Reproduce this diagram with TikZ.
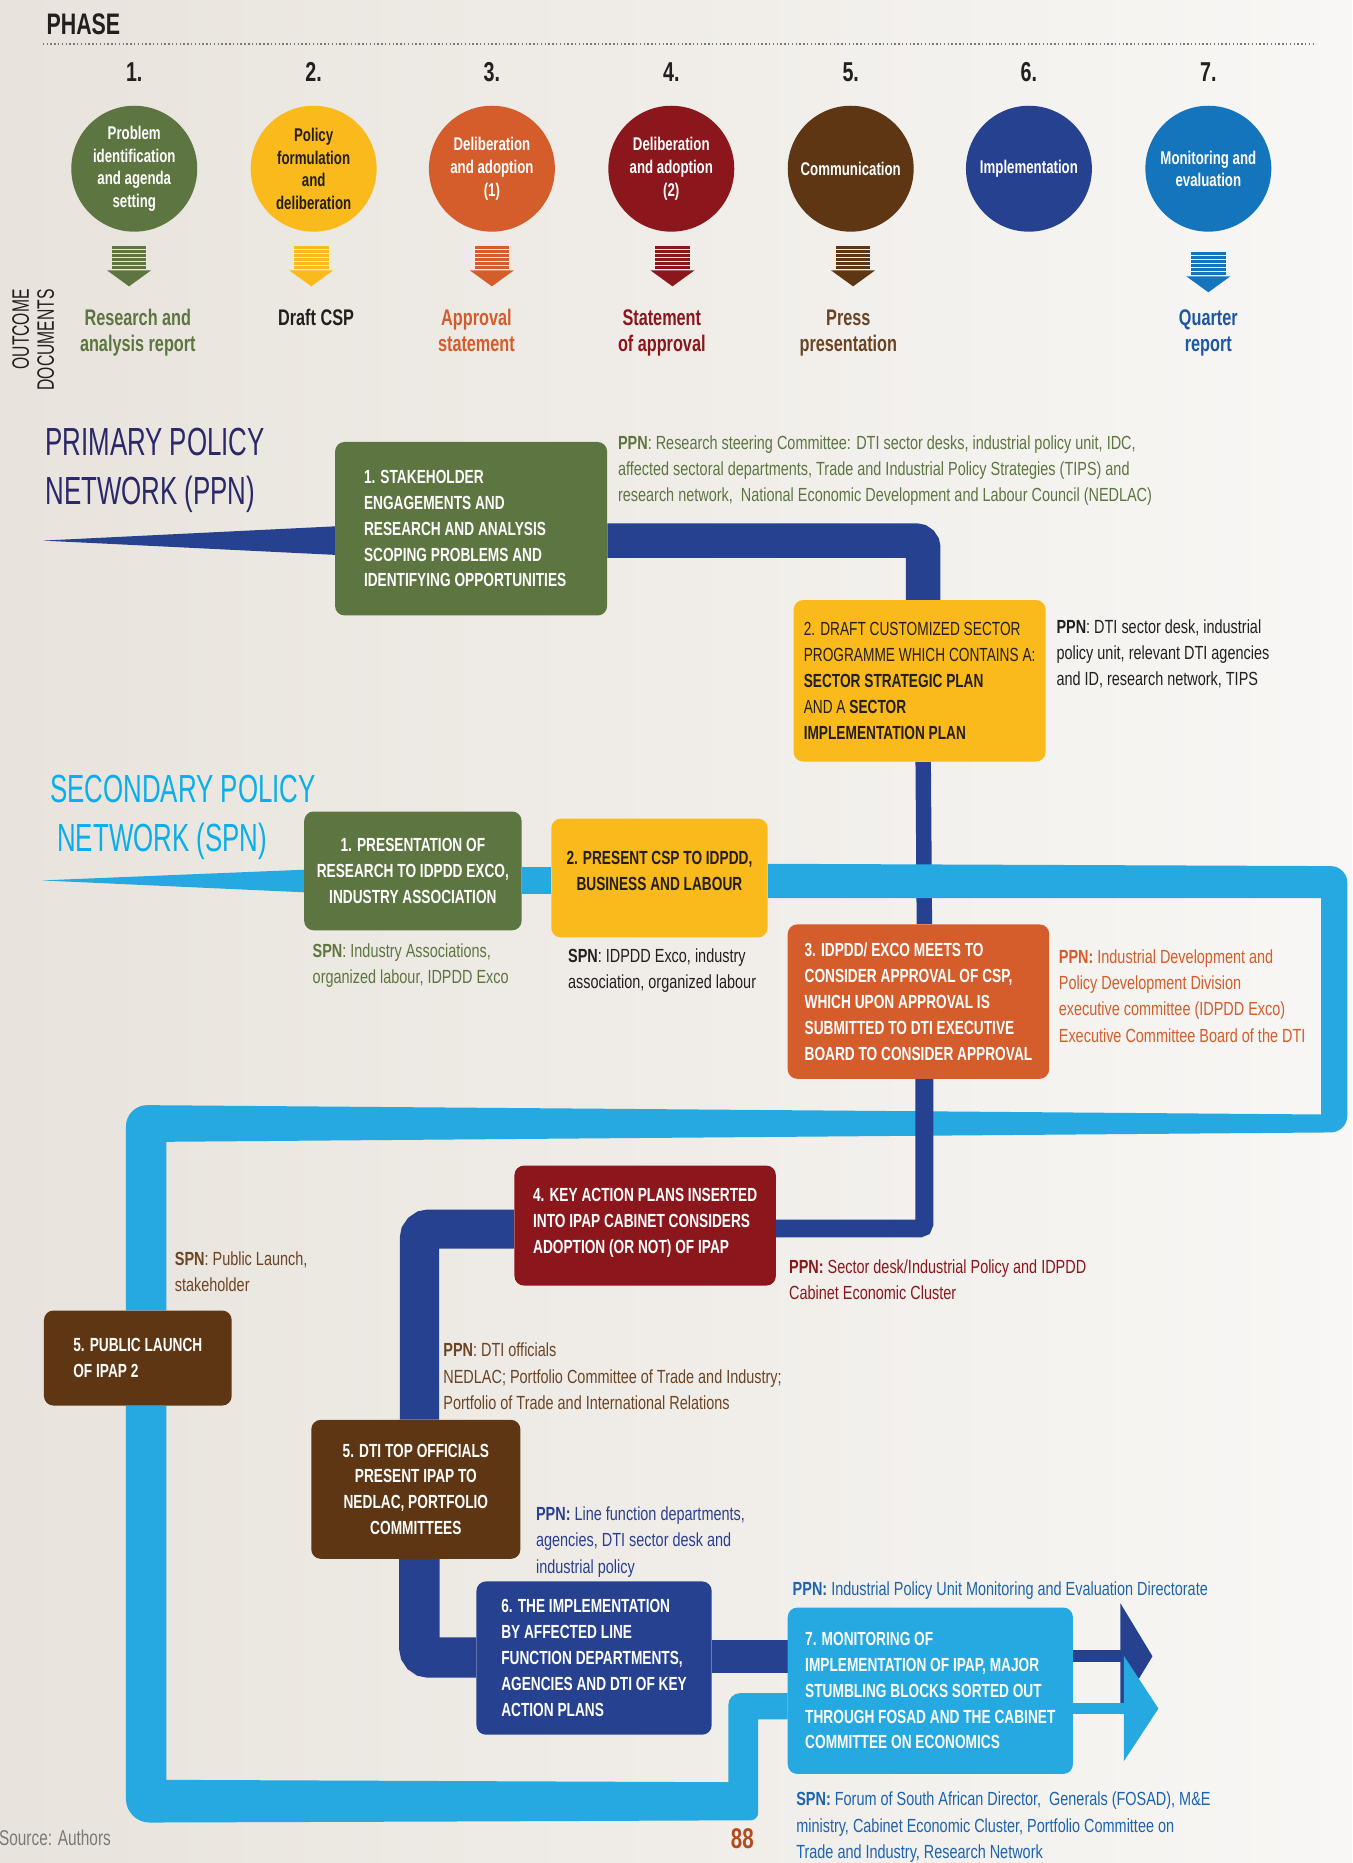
\documentclass[tikz,border=0pt]{standalone}
\usepackage{fontspec}
\setmainfont{Liberation Sans}[FakeStretch=0.72]
\newfontfamily\titlefont{Liberation Sans}[FakeStretch=0.66]
\newfontfamily\notefont{Liberation Sans}[FakeStretch=0.76]
\usepackage{xcolor}
\usepackage{tikz}
\usetikzlibrary{arrows.meta,backgrounds}

\definecolor{cgreen}{HTML}{5D7540}
\definecolor{cyellow}{HTML}{FBBA1C}
\definecolor{corange}{HTML}{D55C2B}
\definecolor{cdred}{HTML}{8B171C}
\definecolor{cbrown}{HTML}{5E3613}
\definecolor{cnavy}{HTML}{264190}
\definecolor{cblue}{HTML}{1474BC}
\definecolor{ccyan}{HTML}{25A9E0}
\definecolor{cdark}{HTML}{231F20}
\definecolor{cbrowntext}{HTML}{6B4423}
\definecolor{cnavytext}{HTML}{2B3F91}
\definecolor{cbluetext}{HTML}{1C63B0}
\definecolor{cqtext}{HTML}{1E57A3}
\definecolor{cppntitle}{HTML}{2A2868}
\definecolor{cspntitle}{HTML}{0AAEEA}
\definecolor{cgrey}{HTML}{7A7A7A}
\definecolor{cbgl}{HTML}{E8E3DC}
\definecolor{cbgr}{HTML}{F8F7F5}
\definecolor{cpage}{HTML}{B24C1E}

\begin{document}
\begin{tikzpicture}[
      x=1pt, y=-1pt,
      phase/.style={circle, minimum size=106pt, inner sep=0pt, align=center,
                    text=white, font=\fontsize{15.5}{19}\selectfont\bfseries},
      num/.style={anchor=base, inner sep=0pt, text=cdark,
                  font=\fontsize{23}{23}\selectfont\bfseries},
      outcome/.style={anchor=base, inner sep=0pt, align=center,
                      font=\fontsize{19}{21.5}\selectfont\bfseries},
      stage/.style={rectangle, rounded corners=8pt, inner sep=0pt, align=left,
                    text=white, font=\fontsize{16}{21.75}\selectfont\bfseries},
      note/.style={anchor=base west, inner sep=0pt, align=left,
                   font=\notefont\fontsize{16}{22}\selectfont},
      title/.style={anchor=base west, inner sep=0pt, align=left,
                    font=\titlefont\fontsize{33}{42}\selectfont}
    ]
    \useasboundingbox (0,0) rectangle (1138,1568);

    \node[anchor=base west, inner sep=0pt, text=cdark,
          font=\fontsize{25}{25}\selectfont\bfseries] (phasehead) at (39,29) {PHASE};
    \draw[cgrey, dotted, line width=1.2pt] (36,37) -- (1108,37);

    \foreach \i/\px/\col/\tc/\txt in {
        1/113/cgreen/white/{Problem\\identification\\and agenda\\setting},
        2/264/cyellow/cdark/{Policy\\formulation\\and\\deliberation},
        3/414/corange/white/{Deliberation\\and adoption\\(1)},
        4/565/cdred/white/{Deliberation\\and adoption\\(2)},
        5/716/cbrown/white/{Communication},
        6/866/cnavy/white/{Implementation},
        7/1017/cblue/white/{Monitoring and\\evaluation}} {
      \node[num] (num\i) at (\px,69) {\i.};
      \node[phase, fill=\col, text=\tc] (phase\i) at (\px,142) {\txt};
    }

    \foreach \ax/\ay/\col in {108.6/207/cgreen, 262/207/cyellow, 414/207/corange,
                              566/207/cdred, 718/207/cbrown, 1017/212/cblue} {
      \foreach \k in {0,...,5}
        \fill[\col] (\ax-14.5,\ay+\k*3.4) rectangle +(29,2.3);
      \fill[\col] (\ax-18.5,\ay+20.6) -- (\ax+18.5,\ay+20.6) -- (\ax,\ay+34) -- cycle;
    }

    \node[outcome, text=cgreen] (doc1) at (116,295.5) {Research and\\analysis report};
    \node[outcome, text=cdark] (doc2) at (266,274) {Draft CSP};
    \node[outcome, text=corange] (doc3) at (401,295.5) {Approval\\statement};
    \node[outcome, text=cdred] (doc4) at (557,295.5) {Statement\\of approval};
    \node[outcome, text=cbrowntext] (doc5) at (714,295.5) {Press\\presentation};
    \node[outcome, text=cqtext] (doc7) at (1017,295.5) {Quarter\\report};
    \node[rotate=90, align=right, inner sep=0pt, text=cdark,
          font=\titlefont\fontsize{20}{21}\selectfont] (outdocs) at (28,286) {OUTCOME\\DOCUMENTS};

    \node[title, text=cppntitle] (ppntitle) at (38,425) {PRIMARY POLICY\\NETWORK (PPN)};
    \node[title, text=cspntitle] (spntitle) at (42,717) {SECONDARY POLICY\\\hspace*{6pt}NETWORK (SPN)};

    \node[stage, fill=cgreen, minimum width=229pt, minimum height=146pt] (research) at (396.5,445)
      {1. STAKEHOLDER\\ENGAGEMENTS AND\\RESEARCH AND ANALYSIS\\SCOPING PROBLEMS AND\\IDENTIFYING OPPORTUNITIES\hspace*{10pt}};
    \node[stage, fill=cyellow, text=cdark, minimum width=212pt, minimum height=136pt] (draft) at (774,573)
      {{\mdseries 2. DRAFT CUSTOMIZED SECTOR}\\{\mdseries PROGRAMME WHICH CONTAINS A:}\\SECTOR STRATEGIC PLAN\\{\mdseries AND A} SECTOR\\IMPLEMENTATION PLAN};
    \node[stage, fill=cgreen, align=center, minimum width=183pt, minimum height=100pt] (spnres) at (347.5,733)
      {1. PRESENTATION OF\\RESEARCH TO IDPDD EXCO,\\INDUSTRY ASSOCIATION};
    \node[stage, fill=cyellow, text=cdark, align=center, minimum width=182pt, minimum height=100pt] (spnpres) at (555,739)
      {2. PRESENT CSP TO IDPDD,\\BUSINESS AND LABOUR\\[-10pt]};
    \node[stage, fill=corange, minimum width=220pt, minimum height=130pt] (approve) at (773,843)
      {3. IDPDD/ EXCO MEETS TO\\CONSIDER APPROVAL OF CSP,\\WHICH UPON APPROVAL IS\\SUBMITTED TO DTI EXECUTIVE\\BOARD TO CONSIDER APPROVAL};
    \node[stage, fill=cdred, minimum width=220pt, minimum height=101pt] (cabinet) at (543,1031.5)
      {4. KEY ACTION PLANS INSERTED\\INTO IPAP CABINET CONSIDERS\\ADOPTION (OR NOT) OF IPAP\\[-14pt]};
    \node[stage, fill=cbrown, minimum width=158pt, minimum height=80pt] (launch) at (116,1143)
      {5. PUBLIC LAUNCH\\OF IPAP 2\hspace*{20pt}};
    \node[stage, fill=cbrown, align=center, minimum width=176pt, minimum height=117pt] (present) at (350,1253.5)
      {5. DTI TOP OFFICIALS\\PRESENT IPAP TO\\NEDLAC, PORTFOLIO\\COMMITTEES};
    \node[stage, fill=cnavy, minimum width=198pt, minimum height=129pt] (implement) at (500,1395.5)
      {6. THE IMPLEMENTATION\\BY AFFECTED LINE\\FUNCTION DEPARTMENTS,\\AGENCIES AND DTI OF KEY\\ACTION PLANS};
    \node[stage, fill=ccyan, minimum width=240pt, minimum height=140pt] (monitor) at (783,1423)
      {7. MONITORING OF\\IMPLEMENTATION OF IPAP, MAJOR\\STUMBLING BLOCKS SORTED OUT\\THROUGH FOSAD AND THE CABINET\\COMMITTEE ON ECONOMICS};

    \node[note, text=cgreen] (ppnresnote) at (520,422)
      {\textbf{PPN}: Research steering Committee: DTI sector desks, industrial policy unit, IDC,\\affected sectoral departments, Trade and Industrial Policy Strategies (TIPS) and\\research network,\ \ National Economic Development and Labour Council (NEDLAC)};
    \node[note, text=cdark] (ppndraftnote) at (889,577)
      {\textbf{PPN}: DTI sector desk, industrial\\policy unit, relevant DTI agencies\\and ID, research network, TIPS};
    \node[note, text=cgreen] (spnresnote) at (263,828)
      {\textbf{SPN}: Industry Associations,\\organized labour, IDPDD Exco};
    \node[note, text=cdark] (spnpresnote) at (478,832)
      {\textbf{SPN}: IDPDD Exco, industry\\association, organized labour};
    \node[note, text=corange] (ppnapprovenote) at (891,877)
      {\textbf{PPN:} Industrial Development and\\Policy Development Division\\executive committee (IDPDD Exco)\\Executive Committee Board of the DTI};
    \node[note, text=cdred] (ppncabinetnote) at (664,1094)
      {\textbf{PPN:} Sector desk/Industrial Policy and IDPDD\\Cabinet Economic Cluster};
    \node[note, text=cbrowntext] (spnlaunchnote) at (147,1087)
      {\textbf{SPN}: Public Launch,\\stakeholder};
    \node[note, text=cbrowntext] (ppnpresentnote) at (373,1186)
      {\textbf{PPN}: DTI officials\\NEDLAC; Portfolio Committee of Trade and Industry;\\Portfolio of Trade and International Relations};
    \node[note, text=cnavytext] (ppnimplnote) at (451,1324)
      {\textbf{PPN:} Line function departments,\\agencies, DTI sector desk and\\industrial policy};
    \node[note, text=cbluetext] (ppnmonnote) at (667,1343)
      {\textbf{PPN:} Industrial Policy Unit Monitoring and Evaluation Directorate};
    \node[note, text=cbluetext] (spnmonnote) at (670,1564)
      {\textbf{SPN:} Forum of South African Director,\ \ Generals (FOSAD), M\&E\\ministry, Cabinet Economic Cluster, Portfolio Committee on\\Trade and Industry, Research Network};
    \node[anchor=base west, inner sep=0pt, text=cpage,
          font=\fontsize{24}{24}\selectfont\bfseries] (pagenum) at (615,1556) {88};
    \node[anchor=base west, inner sep=0pt, text=cgrey,
          font=\fontsize{18}{18}\selectfont] (source) at (-1,1553) {Source: Authors};

    \coordinate (ppntip) at (36,455);
    \coordinate (spntip) at (35,741);
    \coordinate (ppnend) at (970,1394);
    \coordinate (spnend) at (975,1438);

    \begin{scope}[on background layer]
      \shade[left color=cbgl, right color=cbgr] (0,0) rectangle (1138,1568);

      \fill[cnavy] (ppntip) -- (research.west |- 0,443) -- (research.west |- 0,467) -- cycle;
      \draw[cnavy, line width=29pt, rounded corners=6pt] (research.east |- 0,455) -| (draft.north -| 777,0);
      \draw[cnavy, line width=13pt] (draft.south -| 777,0) -- (approve.north -| 778,0);

      \fill[ccyan] (spntip) -- (spnres.west |- 0,732) -- (spnres.west |- 0,751) -- cycle;
      \draw[ccyan, line width=23pt] (spnres.east |- 0,741) -- (spnpres.west |- 0,741);
      \fill[ccyan] (spnpres.east |- 0,727) [rounded corners=14pt] -- (1134,729) -- (1134,953)
        -- (700,956.5) [sharp corners] -- (140,961) -- (launch.north -| 140,0)
        -- (launch.north -| 106,0) -- (106,1000) [rounded corners=18pt] -- (106,930)
        -- (600,933.9) [sharp corners] -- (1112,938) -- (1112,756) -- (spnpres.east |- 0,756) -- cycle;

      \draw[cnavy, line width=15pt, rounded corners=4pt] (approve.south -| 778,0) |- (cabinet.east |- 0,1034);
      \draw[cnavy, line width=33pt, rounded corners=8pt] (cabinet.west |- 0,1034.5) -| (present.north -| 353,0);
      \draw[cnavy, line width=34pt, rounded corners=8pt] (present.south -| 353,0) |- (implement.west |- 0,1395);
      \draw[cnavy, line width=28pt] (implement.east |- 0,1394) -- (monitor.west |- 0,1394);
      \draw[cnavy, line width=10pt, -{Triangle[length=27pt,width=88pt]}] (monitor.east |- 0,1394) -- (ppnend);

      \fill[ccyan] (launch.south -| 106,0) [rounded corners=20pt] -- (106,1534) -- (400,1533)
        [rounded corners=6pt] -- (638,1532) -- (638,1490) [sharp corners] -- (638,1447)
        -- (monitor.west |- 0,1447) -- (monitor.west |- 0,1425) -- (625,1425)
        [rounded corners=10pt] -- (613,1425) -- (613,1460) [sharp corners] -- (613,1500)
        -- (140,1498) -- (launch.south -| 140,0) -- cycle;
      \draw[ccyan, line width=9pt, -{Triangle[length=29pt,width=87pt]}] (monitor.east |- 0,1438) -- (spnend);
    \end{scope}
  \end{tikzpicture}
\end{document}
